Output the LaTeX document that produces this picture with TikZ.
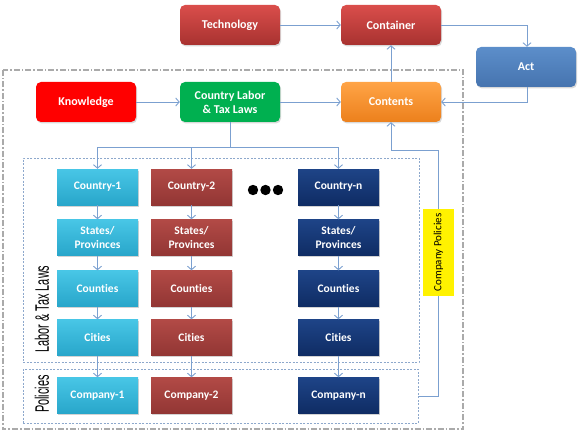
\documentclass[tikz,border=0pt]{standalone}
\usepackage{fontspec}
\setmainfont{Carlito}[Ligatures=NoCommon]
\newfontfamily\condfont{Liberation Sans}
\usetikzlibrary{arrows.meta,shadows,calc}
\definecolor{lnc}{RGB}{123,160,208}
\definecolor{dbox}{RGB}{141,168,204}
\definecolor{obox}{RGB}{170,170,170}
\definecolor{redT}{RGB}{218,78,75}
\definecolor{redB}{RGB}{168,50,48}
\definecolor{actT}{RGB}{92,142,202}
\definecolor{actB}{RGB}{70,116,175}
\definecolor{orT}{RGB}{255,164,70}
\definecolor{orB}{RGB}{236,128,28}
\definecolor{cyT}{RGB}{72,198,230}
\definecolor{cyB}{RGB}{40,166,202}
\definecolor{brT}{RGB}{178,74,70}
\definecolor{brB}{RGB}{146,54,52}
\definecolor{nvT}{RGB}{30,68,135}
\definecolor{nvB}{RGB}{15,44,100}
\definecolor{grn}{RGB}{0,176,80}
\begin{document}
\begin{tikzpicture}[x=1pt,y=-1pt,
  topbox/.style={minimum width=100pt,minimum height=40pt,inner sep=0pt,rounded corners=5pt,text=white,
    font=\fontsize{12}{14}\selectfont\bfseries,align=center,
    drop shadow={shadow xshift=1pt,shadow yshift=-1.5pt,opacity=0.3}},
  colbox/.style={minimum width=81pt,minimum height=36pt,inner sep=0pt,text=white,
    font=\fontsize{11.5}{14}\selectfont\bfseries,align=center,
    drop shadow={shadow xshift=1.2pt,shadow yshift=-1.5pt,opacity=0.35}},
  redbox/.style={top color=redT,bottom color=redB},
  cyan box/.style={colbox,top color=cyT,bottom color=cyB},
  brown box/.style={colbox,top color=brT,bottom color=brB},
  navy box/.style={colbox,top color=nvT,bottom color=nvB},
  ln/.style={draw=lnc,line width=0.9pt},
  arr/.style={ln,-{Straight Barb[length=3.5pt,width=8pt]}},
  dashbox/.style={draw=dbox,line width=1pt,dash pattern=on 2pt off 1.5pt},
  sidelab/.style={rotate=90,font=\condfont\fontsize{19.5}{20}\selectfont,inner sep=0pt},
]
\useasboundingbox (0,0) rectangle (578,433);
% containers
\draw[draw=obox,line width=1.2pt,dash pattern=on 6pt off 2pt on 1.5pt off 2pt] (3,70) rectangle (463,429);
\node[dashbox,minimum width=396pt,minimum height=204pt,inner sep=0pt] (laws) at (221,260) {};
\node[dashbox,minimum width=395pt,minimum height=54pt,inner sep=0pt] (pol) at (220.5,396) {};
\node[sidelab] (lablaws) at (42,309) {\scalebox{0.56}[1]{Labor \& Tax Laws}};
\node[sidelab] (labpol) at (42,394) {\scalebox{0.56}[1]{Policies}};
% top row
\node[topbox,redbox] (tech) at (230,25) {Technology};
\node[topbox,redbox] (cont) at (391,25) {Container};
\node[topbox,top color=actT,bottom color=actB] (act) at (526,67) {Act};
\node[topbox,fill=red] (know) at (86,102) {Knowledge};
\node[topbox,fill=grn] (claw) at (230,102) {Country Labor\\\& Tax Laws};
\node[topbox,top color=orT,bottom color=orB] (conts) at (391,102) {Contents};
% columns
\foreach \c/\x/\s/\n in {1/97.5/cyan box/1,2/191.5/brown box/2,n/338.5/navy box/n}{
  \node[\s] (c\c a) at (\x,187) {Country-\n};
  \node[\s] (c\c b) at (\x,237.5) {States/\\Provinces};
  \node[\s] (c\c c) at (\x,288.5) {Counties};
  \node[\s] (c\c d) at (\x,337.5) {Cities};
  \node[\s] (c\c e) at (\x,395.5) {Company-\n};
  \draw[arr] (c\c a) -- (c\c b);
  \draw[arr] (c\c b) -- (c\c c);
  \draw[arr] (c\c c) -- (c\c d);
  \draw[arr] (c\c d) -- (c\c e);
}
\foreach \x in {253,265.5,278}{\fill[black] (\x,190) circle (5.2pt);}
% company policies label
\node[rotate=90,fill=yellow,minimum width=87pt,minimum height=31pt,inner sep=0pt,
  font=\fontsize{11}{12}\selectfont] (cp) at (438.5,252.5) {Company Policies};
% connectors
\draw[arr] (tech) -- (cont);
\coordinate (ca) at (527,25);
\draw[arr] (cont.east) -- (ca) -- (act.north -| ca);
\coordinate (ab) at (527,102);
\draw[arr] (act.south -| ab) -- (ab) -- (conts.east);
\draw[arr] (conts) -- (cont);
\draw[arr] (know) -- (claw);
\draw[arr] (claw) -- (conts);
\coordinate (j) at (230,147);
\draw[ln] (claw.south) -- (j);
\draw[arr] (j) -| (c1a.north);
\draw[arr] (j) -| (c2a.north);
\draw[arr] (j) -| (cna.north);
\draw[ln] (pol.east) -| (cp.west);
\coordinate (cb) at (391,150);
\draw[arr] (cp.east) |- (cb) -- (conts.south);
\end{tikzpicture}
\end{document}
